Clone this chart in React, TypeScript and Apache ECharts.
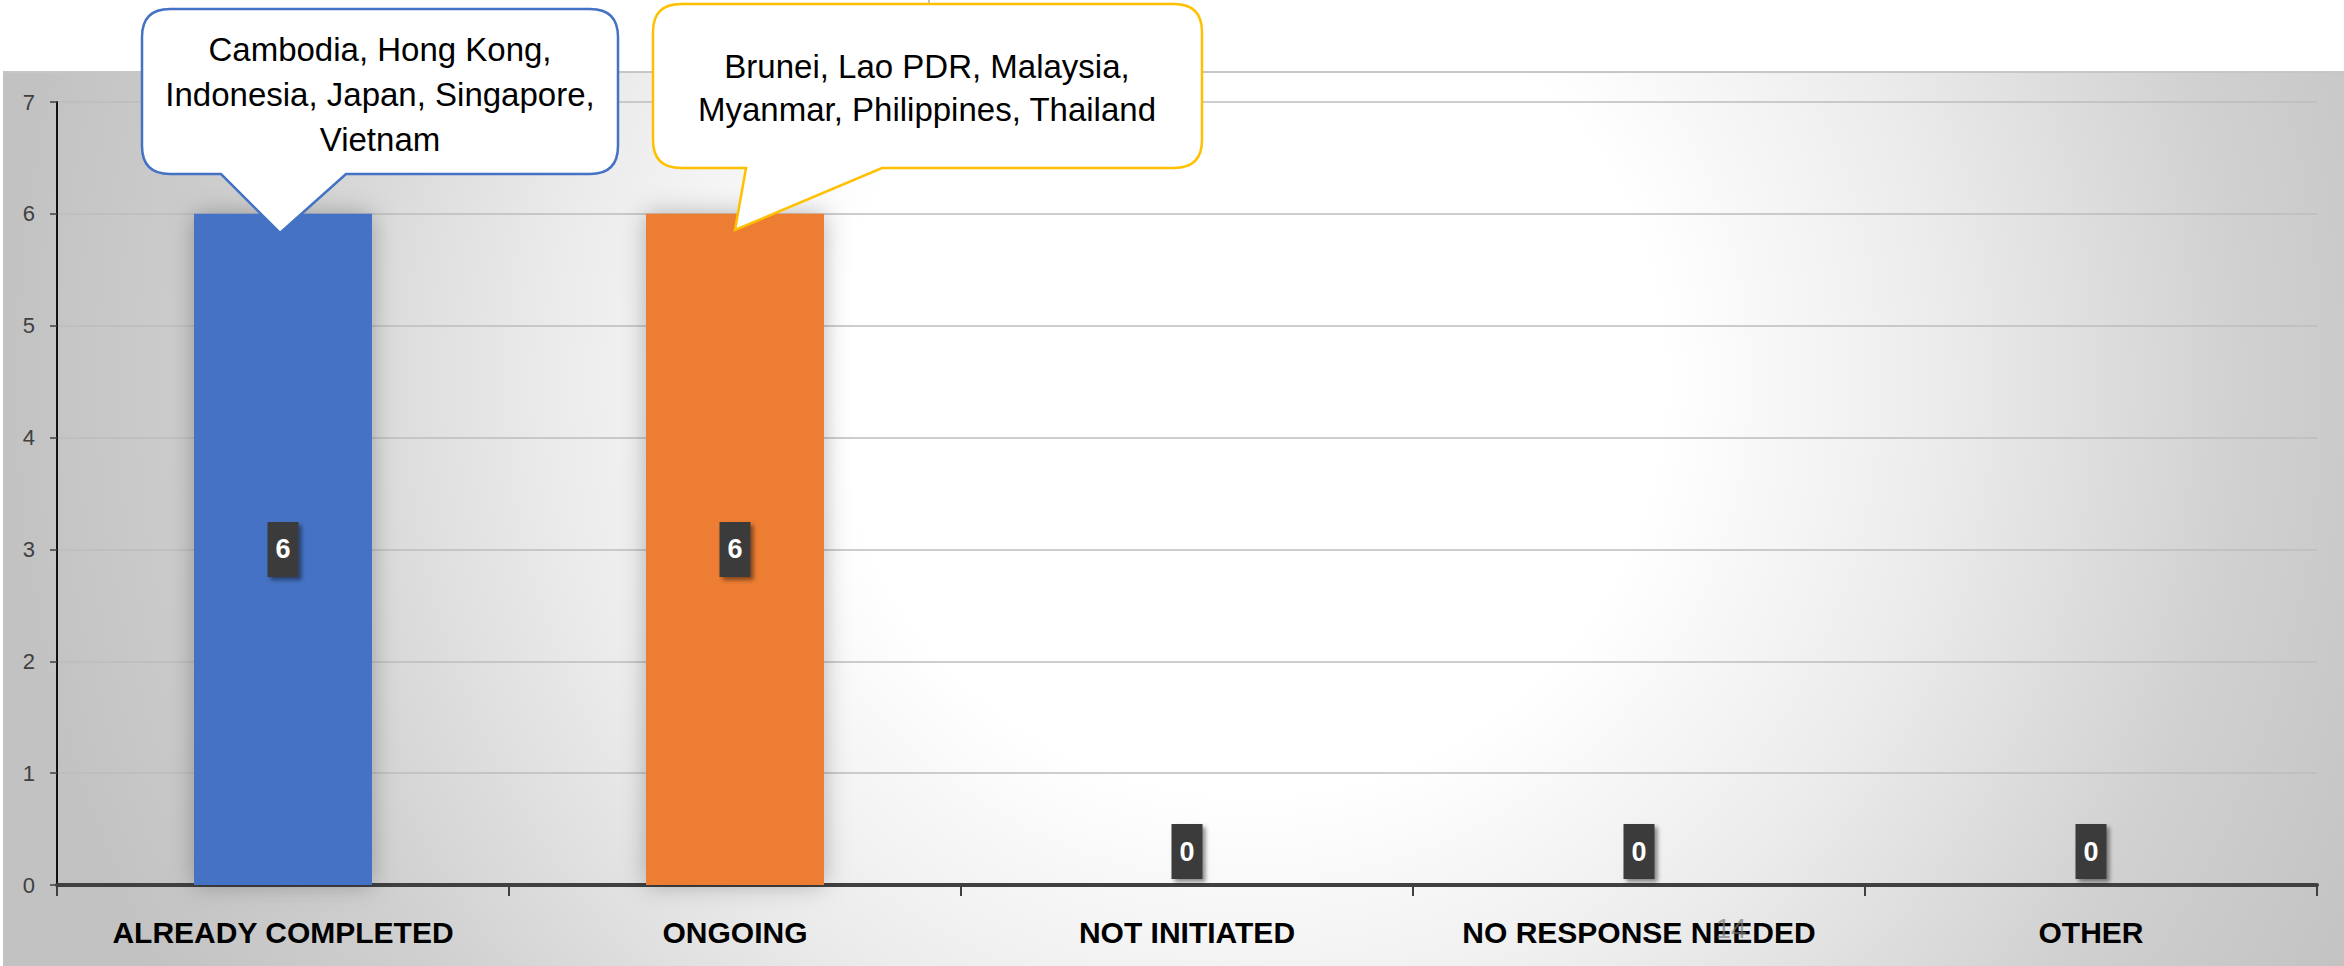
import React, { useEffect, useRef } from "react";
import * as echarts from "echarts";

const categories = ["ALREADY COMPLETED", "ONGOING", "NOT INITIATED", "NO RESPONSE NEEDED", "OTHER"];
const counts = [6, 6, 0, 0, 0];
const barColors = ["#4472C4", "#ED7D31", "#A5A5A5", "#FFC000", "#5B9BD5"];
const yMin = 0;
const yMax = 7;
const yStep = 1;
const calloutCompleted = ["Cambodia, Hong Kong,", "Indonesia, Japan, Singapore,", "Vietnam"];
const calloutOngoing = ["Brunei, Lao PDR, Malaysia,", "Myanmar, Philippines, Thailand"];
const pageNumber = "14";

const bluePath =
  "M 170 9 L 590 9 Q 618 9 618 37 L 618 146 Q 618 174 590 174 L 346 174 L 280 233 L 221 174 L 170 174 Q 142 174 142 146 L 142 37 Q 142 9 170 9 Z";
const orangePath =
  "M 681 4 L 1174 4 Q 1202 4 1202 32 L 1202 140 Q 1202 168 1174 168 L 882 168 L 735 230 L 746 168 L 681 168 Q 653 168 653 140 L 653 32 Q 653 4 681 4 Z";

echarts.graphic.registerShape("calloutBlue", echarts.graphic.extendPath(bluePath, {}));
echarts.graphic.registerShape("calloutOrange", echarts.graphic.extendPath(orangePath, {}));

export default function App() {
  const ref = useRef<HTMLDivElement>(null);

  useEffect(() => {
    document.body.style.margin = "0";
    document.body.style.overflow = "hidden";
    const el = ref.current;
    if (!el) return;
    const chart = echarts.init(el, null, { renderer: "svg" });

    const data = counts.map((v, i) => ({
      value: v,
      itemStyle: { color: barColors[i] },
      label: v > 0 ? { position: "inside" } : { position: "top", distance: 6 },
    }));

    const bg = new echarts.graphic.RadialGradient(
      1250,
      380,
      1250,
      [
        { offset: 0, color: "#ffffff" },
        { offset: 0.33, color: "#ffffff" },
        { offset: 0.55, color: "#ececec" },
        { offset: 0.8, color: "#d0d0d0" },
        { offset: 1, color: "#c2c2c2" },
      ],
      true
    );

    chart.setOption({
      animation: false,
      backgroundColor: "#ffffff",
      grid: { left: 57, right: 27, top: 102, bottom: 81, containLabel: false },
      xAxis: {
        type: "category",
        data: categories,
        axisLine: { lineStyle: { color: "#404040", width: 4 } },
        axisTick: { show: true, length: 11, lineStyle: { color: "#404040", width: 2 } },
        axisLabel: {
          interval: 0,
          margin: 32,
          color: "#000000",
          fontFamily: "Liberation Sans",
          fontWeight: "bold",
          fontSize: 30,
        },
        splitLine: { show: false },
      },
      yAxis: {
        type: "value",
        min: yMin,
        max: yMax,
        interval: yStep,
        axisLine: { show: true, lineStyle: { color: "#111111", width: 2 } },
        axisTick: { show: true, length: 7, lineStyle: { color: "#404040", width: 1.5 } },
        axisLabel: { margin: 22, color: "#404040", fontFamily: "Liberation Sans", fontSize: 22 },
        splitLine: { show: true, lineStyle: { color: "#bdbdbd", width: 1.5 } },
      },
      series: [
        {
          type: "bar",
          data,
          barWidth: 178,
          itemStyle: { shadowBlur: 24, shadowColor: "rgba(0,0,0,0.28)" },
          label: {
            show: true,
            color: "#ffffff",
            fontFamily: "Liberation Sans",
            fontWeight: "bold",
            fontSize: 27,
            backgroundColor: "#3b3b3b",
            padding: [14, 8],
            shadowBlur: 4,
            shadowOffsetX: 3,
            shadowOffsetY: 3,
            shadowColor: "rgba(0,0,0,0.45)",
          },
        },
      ],
      graphic: [
        {
          type: "rect",
          silent: true,
          z: -100,
          shape: { x: 3, y: 72, width: 2341, height: 894 },
          style: { fill: bg },
        },
        {
          type: "line",
          silent: true,
          z: -99,
          shape: { x1: 3, y1: 72, x2: 2344, y2: 72 },
          style: { stroke: "#c6c6c6", lineWidth: 2 },
        },
        {
          type: "line",
          silent: true,
          z: -99,
          shape: { x1: 929, y1: 0, x2: 929, y2: 6 },
          style: { stroke: "#c0c0c0", lineWidth: 2 },
        },
        {
          type: "calloutBlue",
          z: 100,
          x: 0,
          y: 0,
          scaleX: 1,
          scaleY: 1,
          style: { fill: "#ffffff", stroke: "#4472C4", lineWidth: 2.5 },
        },
        {
          type: "text",
          z: 101,
          x: 380,
          y: 94,
          style: {
            text: calloutCompleted.join("\n"),
            fontFamily: "Liberation Sans",
            fontSize: 33,
            lineHeight: 45,
            fill: "#000000",
            align: "center",
            verticalAlign: "middle",
          },
        },
        {
          type: "calloutOrange",
          z: 100,
          x: 0,
          y: 0,
          scaleX: 1,
          scaleY: 1,
          style: { fill: "#ffffff", stroke: "#FFC000", lineWidth: 2.5 },
        },
        {
          type: "text",
          z: 101,
          x: 927,
          y: 88,
          style: {
            text: calloutOngoing.join("\n"),
            fontFamily: "Liberation Sans",
            fontSize: 33,
            lineHeight: 43,
            fill: "#000000",
            align: "center",
            verticalAlign: "middle",
          },
        },
        {
          type: "text",
          z: 101,
          x: 1731,
          y: 928,
          style: {
            text: pageNumber,
            fontFamily: "Liberation Sans",
            fontSize: 28,
            fill: "rgba(120,120,120,0.7)",
            align: "center",
            verticalAlign: "middle",
          },
        },
      ],
    });

    return () => {
      chart.dispose();
    };
  }, []);

  return <div ref={ref} style={{ width: 2344, height: 966 }} />;
}
